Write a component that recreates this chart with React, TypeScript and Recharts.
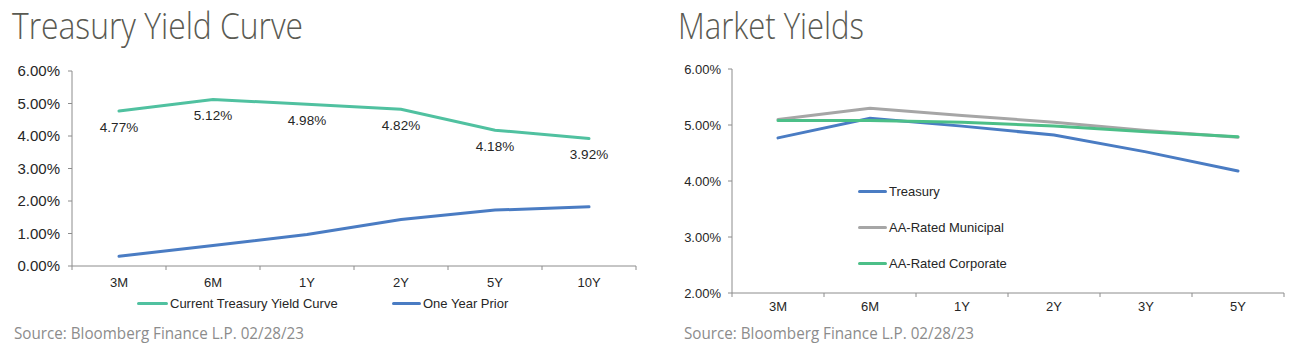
import React from 'react';
import { LineChart, Line, XAxis, YAxis, Legend, LabelList } from 'recharts';

// ---------- Data ----------
const tenorsLeft = ['3M', '6M', '1Y', '2Y', '5Y', '10Y'];
const currentCurve = [4.77, 5.12, 4.98, 4.82, 4.18, 3.92];
const oneYearPrior = [0.3, 0.63, 0.97, 1.43, 1.72, 1.82];
const leftYTicks = [0, 1, 2, 3, 4, 5, 6];

const tenorsRight = ['3M', '6M', '1Y', '2Y', '3Y', '5Y'];
const treasury = [4.77, 5.12, 4.98, 4.82, 4.52, 4.18];
const municipal = [5.1, 5.3, 5.17, 5.05, 4.9, 4.78];
const corporate = [5.08, 5.08, 5.05, 4.98, 4.88, 4.79];
const rightYTicks = [2, 3, 4, 5, 6];

const leftSeriesNames = ['Current Treasury Yield Curve', 'One Year Prior'];
const rightSeriesNames = ['Treasury', 'AA-Rated Municipal', 'AA-Rated Corporate'];

const leftTitle = 'Treasury Yield Curve';
const rightTitle = 'Market Yields';
const sourceText = 'Source: Bloomberg Finance L.P. 02/28/23';

const leftData = tenorsLeft.map((t, i) => ({ tenor: t, current: currentCurve[i], prior: oneYearPrior[i] }));
const rightData = tenorsRight.map((t, i) => ({ tenor: t, treasury: treasury[i], municipal: municipal[i], corporate: corporate[i] }));

// ---------- Styles ----------
const FONT = '"Liberation Sans", Arial, sans-serif';
const AXIS = '#8c8c8c';
const TEXT = '#262626';
const GREEN_L = '#50c1a0';
const BLUE = '#4a7cc3';
const GRAY = '#a6a6a6';
const GREEN_R = '#4cbf88';

const pct = (v: number) => `${Number(v).toFixed(2)}%`;

const leftLegendPos = [
  { x: 137, y: 303, w: 31 },
  { x: 392, y: 303, w: 29 },
];
const rightLegendPos = [
  { x: 858, y: 191, w: 29 },
  { x: 858, y: 227, w: 29 },
  { x: 858, y: 263, w: 29 },
];

const makeLegend = (names: string[], positions: { x: number; y: number; w: number }[], offsetX: number) => (props: any) => {
  const payload = props.payload || [];
  return (
    <div style={{ position: 'relative', width: 0, height: 0 }}>
      {payload.map((p: any, i: number) => {
        const idx = names.indexOf(p.value);
        const pos = positions[idx];
        if (!pos) return null;
        return (
          <div
            key={i}
            style={{
              position: 'absolute',
              left: pos.x - offsetX,
              top: pos.y - 8,
              height: 16,
              display: 'flex',
              alignItems: 'center',
              whiteSpace: 'nowrap',
              fontFamily: FONT,
              fontSize: 13,
              color: TEXT,
            }}
          >
            <span
              style={{
                display: 'inline-block',
                width: pos.w,
                height: 3,
                borderRadius: 2,
                background: p.color,
                marginRight: 2,
              }}
            />
            <span>{p.value}</span>
          </div>
        );
      })}
    </div>
  );
};

// Category tick: label at band centre, plus tick marks at the band boundaries
const makeCategoryTick = (margin: number, fallbackWidth: number) => (props: any) => {
  const { x, y, payload, index, visibleTicksCount, width } = props;
  const count = visibleTicksCount || 6;
  const band = (width || fallbackWidth) / count;
  const axisY = y - margin;
  return (
    <g>
      <line x1={x - band / 2} x2={x - band / 2} y1={axisY} y2={axisY + 4} stroke={AXIS} strokeWidth={1} />
      {index === count - 1 && (
        <line x1={x + band / 2} x2={x + band / 2} y1={axisY} y2={axisY + 4} stroke={AXIS} strokeWidth={1} />
      )}
      <text x={x} y={y} dy="0.71em" textAnchor="middle" fontSize={13} fill={TEXT} fontFamily={FONT}>
        {payload.value}
      </text>
    </g>
  );
};

export default function App() {
  return (
    <div style={{ position: 'absolute', left: 0, top: 0, width: 1303, height: 346, background: '#fff', overflow: 'hidden' }}>
      {/* Left chart */}
      <div style={{ position: 'absolute', left: 0, top: 0 }}>
        <LineChart width={650} height={346} data={leftData} margin={{ top: 71, right: 14, bottom: 50, left: 0 }}>
          <XAxis
            dataKey="tenor"
            scale="band"
            stroke={AXIS}
            tickLine={false}
            tickSize={0}
            tickMargin={12}
            height={30}
            interval={0}
            tick={makeCategoryTick(12, 564)}
          />
          <YAxis
            domain={[0, 6]}
            ticks={leftYTicks}
            width={72}
            tickSize={4}
            tickMargin={8}
            stroke={AXIS}
            interval={0}
            tickFormatter={pct}
            tick={{ fontSize: 15, fill: TEXT, fontFamily: FONT }}
          />
          <Line
            dataKey="current"
            name={leftSeriesNames[0]}
            stroke={GREEN_L}
            strokeWidth={3}
            strokeLinecap="round"
            dot={false}
            type="linear"
            isAnimationActive={false}
          >
            <LabelList dataKey="current" position="bottom" offset={11} formatter={pct} fill={TEXT} fontSize={13.5} fontFamily={FONT} />
          </Line>
          <Line
            dataKey="prior"
            name={leftSeriesNames[1]}
            stroke={BLUE}
            strokeWidth={3}
            strokeLinecap="round"
            dot={false}
            type="linear"
            isAnimationActive={false}
          />
          <Legend
            layout="horizontal"
            verticalAlign="middle"
            align="center"
            wrapperStyle={{ position: 'absolute', left: 0, top: 0, width: 0, height: 0 }}
            content={makeLegend(leftSeriesNames, leftLegendPos, 0)}
          />
        </LineChart>
      </div>

      {/* Right chart */}
      <div style={{ position: 'absolute', left: 660, top: 0 }}>
        <LineChart width={643} height={346} data={rightData} margin={{ top: 69, right: 19, bottom: 23, left: 0 }}>
          <XAxis
            dataKey="tenor"
            scale="band"
            stroke={AXIS}
            tickLine={false}
            tickSize={0}
            tickMargin={9}
            height={30}
            interval={0}
            tick={makeCategoryTick(9, 552)}
          />
          <YAxis
            domain={[2, 6]}
            ticks={rightYTicks}
            width={72}
            tickSize={4}
            tickMargin={7}
            stroke={AXIS}
            interval={0}
            tickFormatter={pct}
            tick={{ fontSize: 13, fill: TEXT, fontFamily: FONT }}
          />
          <Line dataKey="treasury" name={rightSeriesNames[0]} stroke={BLUE} strokeWidth={3} strokeLinecap="round" dot={false} type="linear" isAnimationActive={false} />
          <Line dataKey="municipal" name={rightSeriesNames[1]} stroke={GRAY} strokeWidth={3} strokeLinecap="round" dot={false} type="linear" isAnimationActive={false} />
          <Line dataKey="corporate" name={rightSeriesNames[2]} stroke={GREEN_R} strokeWidth={3} strokeLinecap="round" dot={false} type="linear" isAnimationActive={false} />
          <Legend
            layout="vertical"
            verticalAlign="middle"
            align="center"
            wrapperStyle={{ position: 'absolute', left: 0, top: 0, width: 0, height: 0 }}
            content={makeLegend(rightSeriesNames, rightLegendPos, 660)}
          />
        </LineChart>
      </div>

      {/* Titles and sources */}
      <svg width={1303} height={346} style={{ position: 'absolute', left: 0, top: 0, pointerEvents: 'none' }}>
        <text x={12} y={39} fontFamily='"Open Sans", sans-serif' fontWeight={300} fontSize={36} fill="#5a5a52" textLength={291} lengthAdjust="spacingAndGlyphs">
          {leftTitle}
        </text>
        <text x={678} y={38.5} fontFamily='"Open Sans", sans-serif' fontWeight={300} fontSize={36} fill="#5a5a52" textLength={186} lengthAdjust="spacingAndGlyphs">
          {rightTitle}
        </text>
        <text x={14} y={338.5} fontFamily='"Open Sans", sans-serif' fontSize={17} fill="#8c8c8c" textLength={290} lengthAdjust="spacingAndGlyphs">
          {sourceText}
        </text>
        <text x={684} y={338.5} fontFamily='"Open Sans", sans-serif' fontSize={17} fill="#8c8c8c" textLength={290} lengthAdjust="spacingAndGlyphs">
          {sourceText}
        </text>
      </svg>
    </div>
  );
}
